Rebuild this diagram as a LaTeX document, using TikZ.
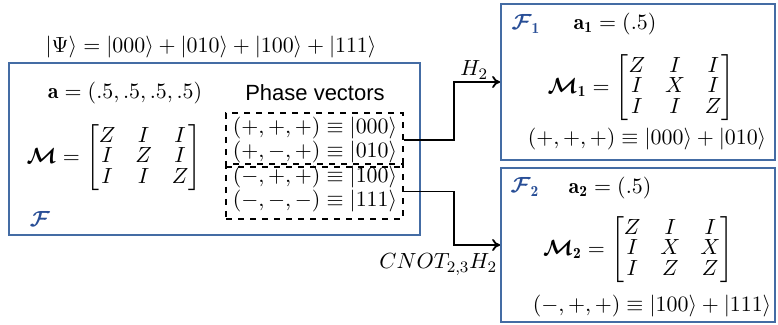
\documentclass[tikz,border=0pt]{standalone}
\usepackage{amsmath, amssymb}
\usepackage{fontspec}
\usepackage{tikz}
\usetikzlibrary{positioning, calc, arrows.meta}
\newfontfamily\phasefont{Liberation Sans}
\definecolor{frameblue}{RGB}{68,108,164}
\definecolor{labelblue}{RGB}{40,78,150}
\newcommand{\kt}[1]{\lvert #1\rangle}
\newcommand{\bM}{\boldsymbol{\mathcal{M}}}
\newcommand{\bF}{\boldsymbol{\mathcal{F}}}
\renewcommand{\arraystretch}{0.72}

\begin{document}
\begin{tikzpicture}[x=0.5pt, y=-0.5pt, font=\fontsize{11}{13}\selectfont, inner sep=1pt,
    framebox/.style={draw=frameblue, line width=0.9pt, inner sep=0pt},
    phasebox/.style={draw, dashed, line width=0.8pt, inner sep=0pt, minimum width=88.5pt},
    phaserow/.style={font=\fontsize{10.9}{12}\selectfont, inner sep=0pt},
    famlabel/.style={text=labelblue},
    link/.style={line width=0.9pt, -{To[length=4pt, width=6pt]}}]
    \useasboundingbox (0,0) rectangle (778,325);

    % Frames
    \node[framebox, minimum width=205.5pt, minimum height=86pt] (F) at (214.5,149) {};
    \node[framebox, minimum width=137pt, minimum height=78pt] (F1) at (638,82) {};
    \node[framebox, minimum width=137pt, minimum height=77pt] (F2) at (638,245) {};

    % Initial state
    \node (psi) at (211,47) {$\kt{\Psi} = \kt{000} + \kt{010} + \kt{100} + \kt{111}$};
    \node (a) at (125,93) {$\mathbf{a} = (.5,.5,.5,.5)$};
    \node (m) at (114,158) {$\bM = \begin{bmatrix} Z & I & I \\ I & Z & I \\ I & I & Z \end{bmatrix}$};
    \node[famlabel] (flab) at (40,219) {$\bF$};

    % Phase vectors
    \node[font=\phasefont\fontsize{11}{13}\selectfont] (pv) at (315,93) {Phase vectors};
    \node[phasebox, minimum height=27pt] (p1) at (314.5,140) {};
    \node[phasebox, minimum height=27.5pt] (p2) at (314.5,191.5) {};
    \node[phaserow] (r1) at (315,128) {$(+,+,+) \equiv \kt{000}$};
    \node[phaserow] (r2) at (315,152) {$(+,-,+) \equiv \kt{010}$};
    \node[phaserow] (r3) at (315,177) {$(-,+,+) \equiv \kt{100}$};
    \node[phaserow] (r4) at (315,201) {$(-,-,-) \equiv \kt{111}$};

    % First factor
    \node[famlabel] (f1lab) at (526,24) {$\bF_{\mathbf{1}}$};
    \node (a1) at (615,24) {$\mathbf{a}_{\mathbf{1}} = (.5)$};
    \node (m1) at (641,88) {$\bM_{\mathbf{1}} = \begin{bmatrix} Z & I & I \\ I & X & I \\ I & I & Z \end{bmatrix}$};
    \node (s1) at (647,139) {$(+,+,+) \equiv \kt{000} + \kt{010}$};

    % Second factor
    \node[famlabel] (f2lab) at (525,187) {$\bF_{\mathbf{2}}$};
    \node (a2) at (610,188) {$\mathbf{a}_{\mathbf{2}} = (.5)$};
    \node (m2) at (638,250) {$\bM_{\mathbf{2}} = \begin{bmatrix} Z & I & I \\ I & X & X \\ I & Z & Z \end{bmatrix}$};
    \node (s2) at (652,306) {$(-,+,+) \equiv \kt{100} + \kt{111}$};

    % Gates
    \draw[link] (p1.east) -- ++(50,0) |- node[pos=0.72, above] {$H_2$} (F1.west);
    \draw[link] (p2.east) -- ++(50,0) |- node[at end, below left, yshift=-3pt] {$CNOT_{2,3}H_2$} (F2.west);
\end{tikzpicture}
\end{document}
